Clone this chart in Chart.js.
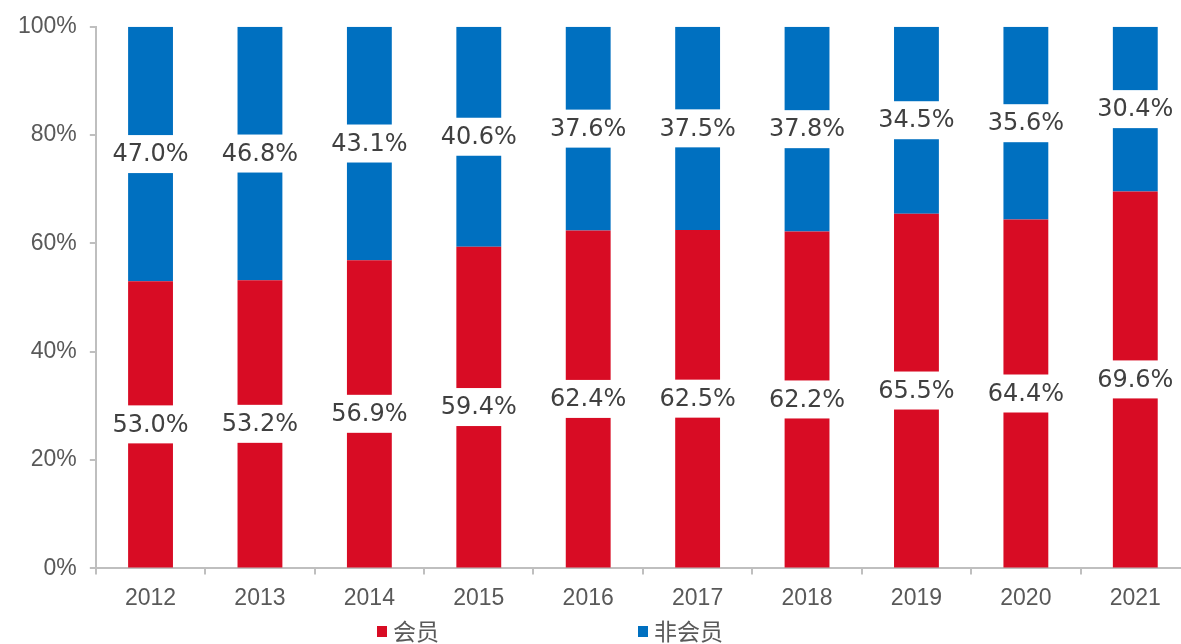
<!DOCTYPE html>
<html>
<head>
<meta charset="utf-8">
<script src="https://cdn.jsdelivr.net/npm/chart.js@4"></script>
<style>
    html, body { margin: 0; padding: 0; background: #fff; overflow: hidden; }
    #wrap { width: 1192px; height: 644px; }
</style>
</head>
<body>
<div id="wrap"><canvas id="shareChart"></canvas></div>
<script>
const years = ['2012', '2013', '2014', '2015', '2016', '2017', '2018', '2019', '2020', '2021'];
const memberShare = [53.0, 53.2, 56.9, 59.4, 62.4, 62.5, 62.2, 65.5, 64.4, 69.6];
const nonMemberShare = [47.0, 46.8, 43.1, 40.6, 37.6, 37.5, 37.8, 34.5, 35.6, 30.4];
const yTicks = [0, 20, 40, 60, 80, 100];

const red = '#D80C24';
const blue = '#0070C0';
const axisGrey = '#BFBFBF';

// white boxed value labels in the middle of each segment
const segmentLabels = {
    id: 'segmentLabels',
    afterDatasetsDraw(chart) {
        const ctx = chart.ctx;
        ctx.save();
        ctx.font = '24px "DejaVu Sans"';
        ctx.textAlign = 'center';
        ctx.textBaseline = 'middle';
        chart.data.datasets.forEach((ds, i) => {
            const meta = chart.getDatasetMeta(i);
            meta.data.forEach((bar, j) => {
                const text = ds.data[j].toFixed(1) + '%';
                const cy = (bar.y + bar.base) / 2;
                const w = ctx.measureText(text).width + 6;
                ctx.fillStyle = '#fff';
                ctx.fillRect(bar.x - w / 2, cy - 19, w, 38);
                ctx.fillStyle = '#404040';
                ctx.fillText(text, bar.x, cy + 1);
            });
        });
        ctx.restore();
    }
};

// legend drawn by hand so it sits where the original one is
const bottomLegend = {
    id: 'bottomLegend',
    afterDraw(chart) {
        const ctx = chart.ctx;
        const starts = [377, 638];
        ctx.save();
        ctx.font = '23px "Noto Sans CJK SC"';
        ctx.textBaseline = 'middle';
        ctx.textAlign = 'left';
        chart.data.datasets.forEach((ds, i) => {
            const x = starts[i];
            ctx.fillStyle = ds.backgroundColor;
            ctx.fillRect(x, 626, 10, 11);
            ctx.fillStyle = '#595959';
            ctx.fillText(ds.label, x + 16, 631);
        });
        ctx.restore();
    }
};

new Chart(document.getElementById('shareChart'), {
    type: 'bar',
    data: {
        labels: years,
        datasets: [
            { label: '会员', data: memberShare, backgroundColor: red, barPercentage: 0.41, categoryPercentage: 1 },
            { label: '非会员', data: nonMemberShare, backgroundColor: blue, barPercentage: 0.41, categoryPercentage: 1 }
        ]
    },
    options: {
        responsive: true,
        maintainAspectRatio: false,
        animation: false,
        layout: { padding: { top: 14, left: 5, right: 2, bottom: 22 } },
        plugins: {
            legend: { display: false },
            tooltip: { enabled: false }
        },
        scales: {
            x: {
                stacked: true,
                border: { color: axisGrey, width: 2 },
                grid: { offset: true, drawOnChartArea: false, color: axisGrey, lineWidth: 2, tickLength: 6 },
                ticks: { color: '#595959', padding: 10, font: { family: '"Liberation Sans"', size: 23 } }
            },
            y: {
                stacked: true,
                min: 0,
                max: 100,
                afterBuildTicks: axis => { axis.ticks = yTicks.map(v => ({ value: v })); },
                border: { color: axisGrey, width: 2 },
                grid: { drawOnChartArea: false, color: axisGrey, lineWidth: 2, tickLength: 6 },
                ticks: {
                    color: '#595959',
                    padding: 13,
                    font: { family: '"Liberation Sans"', size: 23 },
                    callback: v => v + '%'
                }
            }
        }
    },
    plugins: [segmentLabels, bottomLegend]
});
</script>
</body>
</html>
